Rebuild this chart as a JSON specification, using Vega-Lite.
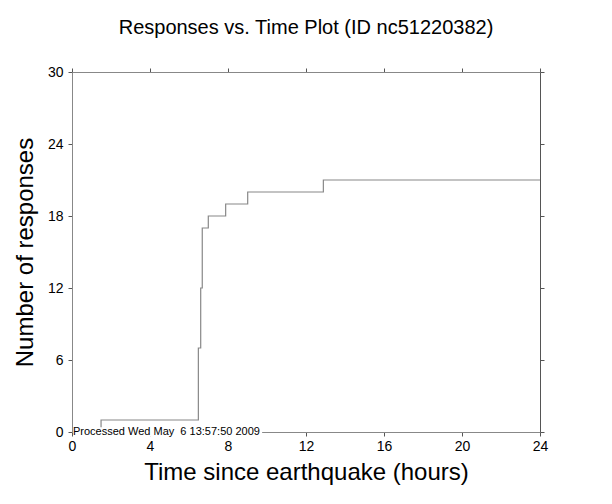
{
  "$schema": "https://vega.github.io/schema/vega-lite/v6.json",
  "width": 468,
  "height": 360,
  "autosize": {"type": "none"},
  "padding": {"left": 72, "top": 72, "right": 72, "bottom": 72},
  "background": "white",
  "title": {
    "text": "Responses vs. Time Plot (ID nc51220382)",
    "font": "Liberation Sans",
    "fontSize": 20,
    "fontWeight": "normal",
    "color": "black",
    "anchor": "middle",
    "offset": 27
  },
  "config": {
    "view": {"stroke": null},
    "axis": {
      "domainColor": "#888888",
      "tickColor": "#555555",
      "tickSize": 4,
      "grid": false,
      "labelFlush": false,
      "labelFont": "Liberation Sans",
      "labelFontSize": 14,
      "labelColor": "black",
      "titleFont": "Liberation Sans",
      "titleFontSize": 24,
      "titleFontWeight": "normal",
      "titleColor": "black"
    }
  },
  "data": {
    "values": [
      {"hours": 1.49, "responses": 0},
      {"hours": 1.49, "responses": 1},
      {"hours": 6.48, "responses": 7},
      {"hours": 6.60, "responses": 12},
      {"hours": 6.68, "responses": 17},
      {"hours": 6.99, "responses": 18},
      {"hours": 7.88, "responses": 19},
      {"hours": 9.01, "responses": 20},
      {"hours": 12.89, "responses": 21},
      {"hours": 24, "responses": 21}
    ]
  },
  "resolve": {"axis": {"x": "independent", "y": "independent"}},
  "layer": [
    {
      "mark": {"type": "line", "interpolate": "step-after", "color": "#888888", "strokeWidth": 1.2},
      "encoding": {
        "x": {
          "field": "hours", "type": "quantitative",
          "scale": {"domain": [0, 24], "nice": false, "zero": false},
          "axis": {"orient": "bottom", "values": [0, 4, 8, 12, 16, 20, 24], "title": "Time since earthquake (hours)", "labelPadding": 3, "titlePadding": 7}
        },
        "y": {
          "field": "responses", "type": "quantitative",
          "scale": {"domain": [0, 30], "nice": false},
          "axis": {"orient": "left", "values": [0, 6, 12, 18, 24, 30], "title": "Number of responses", "labelPadding": 5, "titlePadding": 10}
        }
      }
    },
    {
      "data": {"values": [{"x0": 0.05, "x1": 9.75, "y0": -0.4, "y1": 0.4}]},
      "mark": {"type": "rect", "color": "white"},
      "encoding": {
        "x": {"field": "x0", "type": "quantitative", "axis": {"orient": "top", "labels": false, "title": null, "values": [0, 4, 8, 12, 16, 20, 24]}},
        "x2": {"field": "x1"},
        "y": {"field": "y0", "type": "quantitative", "axis": {"orient": "right", "labels": false, "title": null, "values": [0, 6, 12, 18, 24, 30], "domainColor": "#555555"}},
        "y2": {"field": "y1"}
      }
    },
    {
      "data": {"values": [{"x0": 0.05, "y0": 0, "label": "Processed Wed May \u00a06 13:57:50 2009"}]},
      "mark": {"type": "text", "align": "left", "baseline": "middle", "font": "Liberation Sans", "fontSize": 11, "color": "black"},
      "encoding": {
        "x": {"field": "x0", "type": "quantitative", "axis": null},
        "y": {"field": "y0", "type": "quantitative", "axis": null},
        "text": {"field": "label"}
      }
    }
  ]
}
